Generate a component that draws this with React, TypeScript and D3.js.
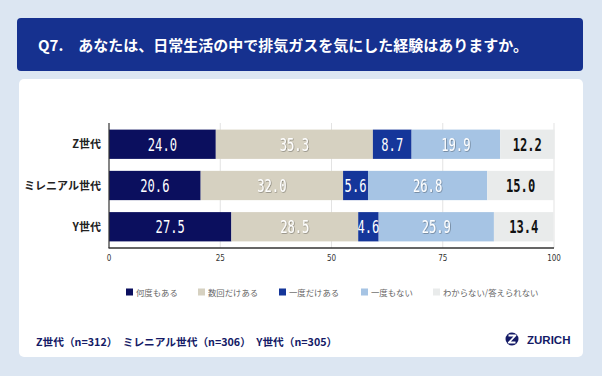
import React from "react";
import * as d3 from "d3";

const categories = ["Z世代", "ミレニアル世代", "Y世代"];
const seriesNames = ["何度もある", "数回だけある", "一度だけある", "一度もない", "わからない/答えられない"];
const seriesColors = ["#0b0f5e", "#d6d1c1", "#15369a", "#a6c4e4", "#e9ebeb"];
const labelColors = ["#ffffff", "#ffffff", "#ffffff", "#ffffff", "#111111"];
const labelShadow = [false, true, false, true, false];
const values = [
  [24.0, 35.3, 8.7, 19.9, 12.2],
  [20.6, 32.0, 5.6, 26.8, 15.0],
  [27.5, 28.5, 4.6, 25.9, 13.4],
];
const ticks = [0, 25, 50, 75, 100];
const title = "Q7.　あなたは、日常生活の中で排気ガスを気にした経験はありますか。";
const footnote = "Z世代（n=312）　ミレニアル世代（n=306）　Y世代（n=305）";

const W = 602;
const H = 376;
const jp = "'Noto Sans CJK JP', 'Noto Sans', sans-serif";

export default function App() {
  const x = d3.scaleLinear().domain([0, 100]).range([109, 554]);
  const y = d3.scaleBand<string>().domain(categories).range([123, 248]).paddingInner(0.29).paddingOuter(0.16);
  const rows = categories.map((c, i) => {
    const obj: any = { cat: c };
    seriesNames.forEach((s, j) => (obj[s] = values[i][j]));
    return obj;
  });
  const stack = d3.stack<any>().keys(seriesNames)(rows);
  const legendX = [126, 198, 279, 361, 433];

  return (
    <svg width={W} height={H} style={{ position: "absolute", left: 0, top: 0 }}>
      <defs>
        <filter id="sh" x="-20%" y="-20%" width="140%" height="140%">
          <feDropShadow dx="0.6" dy="0.6" stdDeviation="0.5" floodColor="#000" floodOpacity="0.45" />
        </filter>
      </defs>
      <rect x={0} y={0} width={W} height={H} fill="#dce6f2" />
      <rect x={17} y={18} width={566} height={53} rx={4} fill="#16318f" />
      <text x={38} y={51} fill="#fff" fontFamily={jp} fontWeight={700} fontSize={15}>
        {title}
      </text>
      <rect x={19} y={79} width={564} height={278} rx={5} fill="#ffffff" />

      {ticks.slice(1).map((t) => (
        <line key={t} x1={x(t)} x2={x(t)} y1={123} y2={248} stroke="#dcdcdc" strokeWidth={0.8} />
      ))}

      {stack.map((layer, j) =>
        layer.map((d, i) => (
          <rect
            key={`${j}-${i}`}
            x={x(d[0])}
            y={y(categories[i])}
            width={x(d[1]) - x(d[0])}
            height={y.bandwidth()}
            fill={seriesColors[j]}
          />
        ))
      )}

      {stack.map((layer, j) =>
        layer.map((d, i) => {
          const label = values[i][j].toFixed(1);
          return (
            <text
              key={`t${j}-${i}`}
              x={(x(d[0]) + x(d[1])) / 2}
              y={(y(categories[i]) as number) + y.bandwidth() / 2 + 6.5}
              textAnchor="middle"
              fill={labelColors[j]}
              fontFamily="'DejaVu Sans Mono', monospace"
              fontWeight={j === 4 ? 700 : 400}
              fontSize={17.5}
              textLength={label.length * 7.3}
              lengthAdjust="spacingAndGlyphs"
              filter={labelShadow[j] ? "url(#sh)" : undefined}
            >
              {label}
            </text>
          );
        })
      )}

      <line x1={109} x2={109} y1={123} y2={248} stroke="#333" strokeWidth={1.2} />
      <line x1={108.5} x2={554} y1={248} y2={248} stroke="#333" strokeWidth={1.5} />

      {ticks.map((t) => (
        <text key={t} x={x(t)} y={261} textAnchor="middle" fontFamily="'DejaVu Sans Condensed', 'DejaVu Sans', sans-serif" fontSize={8} fill="#333">
          {t}
        </text>
      ))}

      {categories.map((c) => (
        <text
          key={c}
          x={101}
          y={(y(c) as number) + y.bandwidth() / 2 + 4}
          textAnchor="end"
          fontFamily={jp}
          fontWeight={700}
          fontSize={11}
          fill="#222"
        >
          {c}
        </text>
      ))}

      {seriesNames.map((s, j) => (
        <g key={s}>
          <rect x={legendX[j]} y={288.5} width={7} height={7} fill={seriesColors[j]} />
          <text x={legendX[j] + 10} y={295.5} fontFamily={jp} fontSize={8.4} fill="#666">
            {s}
          </text>
        </g>
      ))}

      <text x={36} y={346} fontFamily={jp} fontWeight={700} fontSize={10.7} fill="#141a66">
        {footnote}
      </text>

      <circle cx={512} cy={339} r={6.5} fill="#141a66" />
      <path d="M508.5,335.5 L515.5,335.5 L508.8,342.5 L515.5,342.5" fill="none" stroke="#fff" strokeWidth={1.8} strokeLinejoin="round" />
      <text x={527} y={343.5} fontFamily="'Liberation Sans', Arial, sans-serif" fontWeight={700} fontSize={11.5} fill="#141a66">
        ZURICH
      </text>
    </svg>
  );
}
